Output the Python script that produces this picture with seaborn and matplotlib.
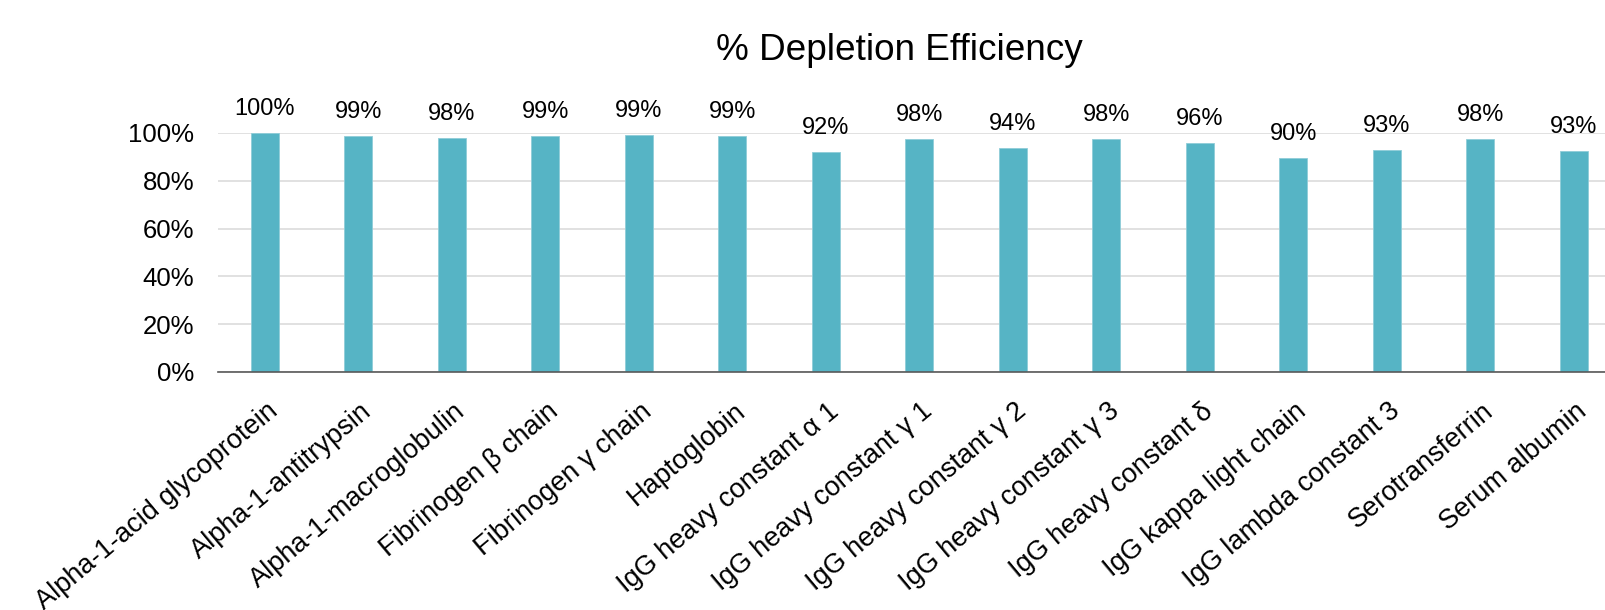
import matplotlib
matplotlib.use("Agg")
import matplotlib.pyplot as plt
import matplotlib.transforms as mtransforms
from matplotlib.ticker import PercentFormatter
import seaborn as sns
import pandas as pd

# Protein categories and their depletion efficiency (%)
proteins = [
    "Alpha-1-acid glycoprotein",
    "Alpha-1-antitrypsin",
    "Alpha-1-macroglobulin",
    "Fibrinogen β chain",
    "Fibrinogen γ chain",
    "Haptoglobin",
    "IgG heavy constant α 1",
    "IgG heavy constant γ 1",
    "IgG heavy constant γ 2",
    "IgG heavy constant γ 3",
    "IgG heavy constant δ",
    "IgG kappa light chain",
    "IgG lambda constant 3",
    "Serotransferrin",
    "Serum albumin",
]
efficiency = [99.8, 98.6, 98.0, 98.6, 99.2, 98.6, 91.9, 97.6, 93.6, 97.6,
              95.7, 89.7, 92.8, 97.6, 92.6]
y_ticks = [0, 20, 40, 60, 80, 100]
title = "% Depletion Efficiency"

df = pd.DataFrame({"protein": proteins, "efficiency": efficiency})

sns.set_style("white")
plt.rcParams["font.family"] = ["Liberation Sans", "DejaVu Sans"]

fig = plt.figure(figsize=(16.05, 6.10), dpi=100)
ax = fig.add_axes([0.1358, 0.3902, 0.8738, 0.3918])

sns.barplot(data=df, x="protein", y="efficiency", color="#56B4C5",
            saturation=1, width=0.3, edgecolor="#8fcdd8", linewidth=0.6,
            ax=ax, zorder=3)

ax.set_xlim(-0.5, len(proteins) - 0.5)
ax.set_ylim(0, 100)
ax.set_yticks(y_ticks)
ax.yaxis.set_major_formatter(PercentFormatter(decimals=0))
ax.grid(axis="y", color="#d9d9d9", linewidth=1.1, zorder=0)
ax.set_axisbelow(True)

for side in ("left", "right", "top"):
    ax.spines[side].set_visible(False)
ax.spines["bottom"].set_color("#595959")
ax.spines["bottom"].set_linewidth(1.2)
ax.spines["bottom"].set_zorder(4)

ax.set_xlabel("")
ax.set_ylabel("")
ax.tick_params(axis="y", length=0, pad=17, labelsize=18.5, labelcolor="black")
ax.tick_params(axis="x", length=0, pad=26, labelsize=19.5, labelcolor="black")

shift = mtransforms.ScaledTranslation(0.10, 0, fig.dpi_scale_trans)
for lbl in ax.get_xticklabels():
    lbl.set_rotation(40)
    lbl.set_ha("right")
    lbl.set_va("center")
    lbl.set_rotation_mode("anchor")
    lbl.set_transform(lbl.get_transform() + shift)

# Value labels above each bar
for i, v in enumerate(efficiency):
    ax.annotate(f"{v:.0f}%", xy=(i, v), xytext=(0, 17.3),
                textcoords="offset points", ha="center", va="center",
                fontsize=17, color="black", annotation_clip=False)

fig.text(899 / 1605, 1 - 50 / 610, title, ha="center", va="center",
         fontsize=26.6, color="black")

fig.savefig("out.png", dpi=100)
